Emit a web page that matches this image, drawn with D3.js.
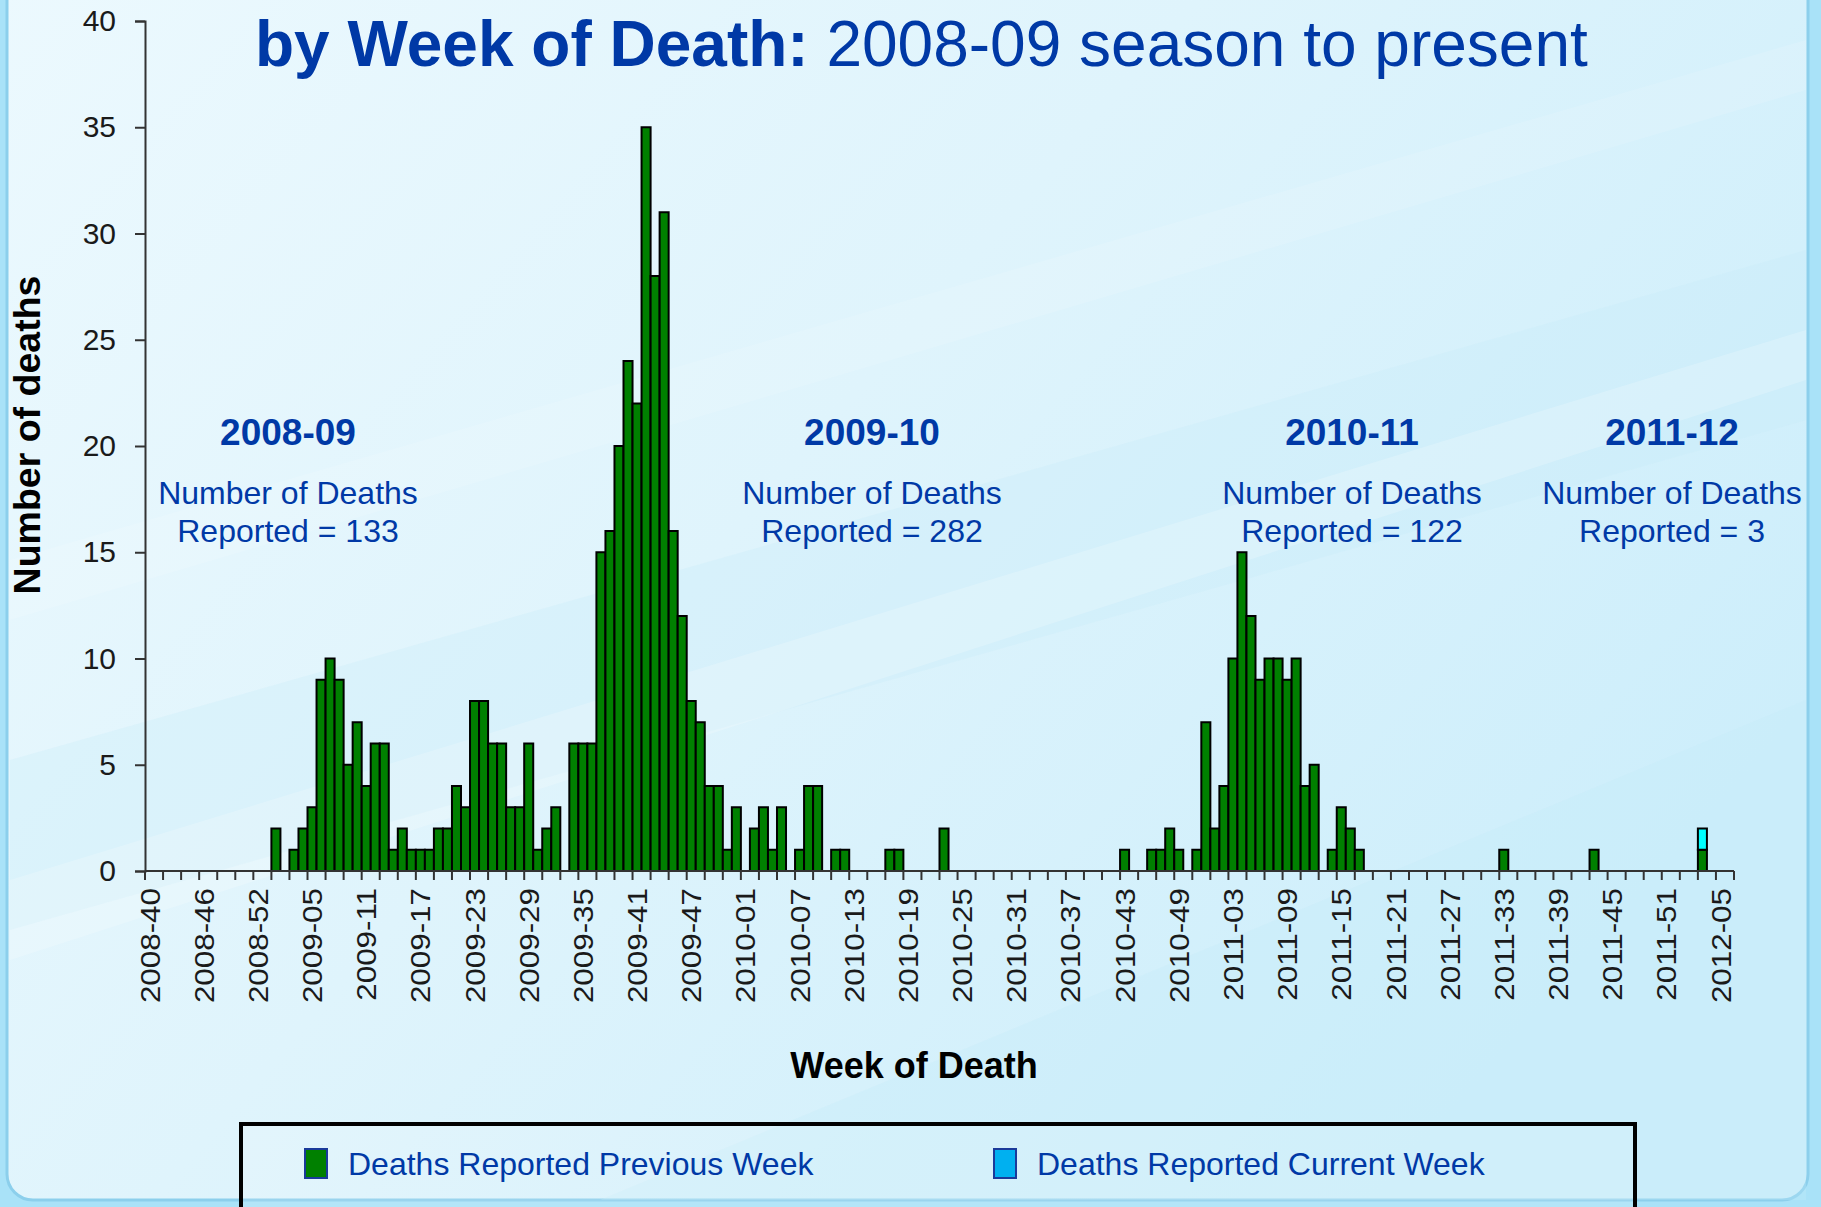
<!DOCTYPE html>
<html><head><meta charset="utf-8">
<script src="https://cdn.jsdelivr.net/npm/d3@7"></script>
<style>html,body{margin:0;padding:0;overflow:hidden;background:#a9e2f8}svg{display:block}</style>
</head><body>
<svg id="chart" width="1821" height="1207"></svg>
<script>
// ---- categories: MMWR weeks (year, first week, last week) ----
const weekRanges = [[2008, 40, 53], [2009, 1, 52], [2010, 1, 52], [2011, 1, 52], [2012, 1, 6]];
const weeks = [];
weekRanges.forEach(([yr, a, b]) => { for (let w = a; w <= b; w++) weeks.push(yr + "-" + String(w).padStart(2, "0")); });

// ---- deaths reported previous week, by season ----
const prev0809 = [0,0,0,0,0,0,0,0,0,0,0,0,0,0, 2,0,1,2,3,9,10,9,5,7,4,6,6,1,2,1,1,1,2,2,4,3,8,8,6,6,3,3,6,1,2,3,0,6];
const prev0910 = [6,6,15,16,20,24,22,35,28,31,16,12,8,7,4,4,1,3,0,2,3,1,3,0,1,4,4,0,1,1,0,0,0,0,1,1,0,0,0,0,2,
                  0,0,0,0,0,0,0,0,0,0,0,0,0,0,0,0];
const prev1011 = [0,0,0,1,0,0,1,1,2,1,0,1,7,2,4,10,15,12,9,10,10,9,10,4,5,0,1,3,2,1,
                  0,0,0,0,0,0,0,0,0,0,0,0,0,0,0,1,0,0,0,0,0,0];
const prev1112 = [0,0,0,1,0,0,0,0,0,0,0,0,0,0,0,1,0,0,0];
// ---- deaths reported current week (2011-12 season) ----
const cur1112  = [0,0,0,0,0,0,0,0,0,0,0,0,0,0,0,1,0,0,0];

// ---- season annotations ----
const seasonNames  = ["2008-09", "2009-10", "2010-11", "2011-12"];
const seasonTotals = [133, 282, 122, 3];
const yTicks = [0, 5, 10, 15, 20, 25, 30, 35, 40];
const seriesNames = ["Deaths Reported Previous Week", "Deaths Reported Current Week"];

const previousWeek = [].concat(prev0809, prev0910, prev1011, prev1112);
const currentWeek = new Array(previousWeek.length - cur1112.length).fill(0).concat(cur1112);
const table = weeks.map((w, i) => ({ week: w, previous: previousWeek[i], current: currentWeek[i] }));

// ---- layout ----
const L = 145, R = 1734, T = 21, B = 871;
const blue = "#0039a6";
const svg = d3.select("#chart");
const defs = svg.append("defs");
const g1 = defs.append("linearGradient").attr("id", "bg").attr("x1", "0").attr("y1", "0").attr("x2", "1").attr("y2", "0.6");
g1.append("stop").attr("offset", "0").attr("stop-color", "#ecf9fe");
g1.append("stop").attr("offset", "0.5").attr("stop-color", "#dff4fc");
g1.append("stop").attr("offset", "1").attr("stop-color", "#cdeefb");

svg.append("rect").attr("width", 1821).attr("height", 1207).attr("fill", "#a9e2f8");
svg.append("rect").attr("x", 7).attr("y", -40).attr("width", 1801).attr("height", 1240).attr("rx", 26)
   .attr("fill", "url(#bg)").attr("stroke", "#8ccfec").attr("stroke-width", 3);
// soft diagonal streaks
const streaks = [
  {d: "M10,760 L1806,250 L1806,420 L10,930 Z", c: "#c6ebfa", o: 0.3},
  {d: "M10,880 L1806,330 L1806,380 L10,960 Z", c: "#ffffff", o: 0.2},
  {d: "M600,1200 L1806,700 L1806,1200 Z", c: "#c2eafa", o: 0.3},
  {d: "M10,560 L1806,40 L1806,90 L10,620 Z", c: "#ffffff", o: 0.12}
];
svg.append("g").selectAll("path").data(streaks).join("path")
   .attr("d", d => d.d).attr("fill", d => d.c).attr("opacity", d => d.o);

// ---- scales ----
const x = d3.scaleBand().domain(weeks).range([L, R]).padding(0);
const y = d3.scaleLinear().domain([0, 40]).range([B, T]);

// ---- bars ----
const stack = d3.stack().keys(["previous", "current"])(table);
const colors = { previous: "#008000", current: "#00ffff" };
svg.append("g").selectAll("g").data(stack).join("g")
  .attr("fill", d => colors[d.key])
  .selectAll("rect").data(d => d.filter(p => p[1] - p[0] > 0)).join("rect")
  .attr("x", d => x(d.data.week))
  .attr("width", x.bandwidth())
  .attr("y", d => y(d[1]))
  .attr("height", d => y(d[0]) - y(d[1]))
  .attr("stroke", "#000").attr("stroke-width", 2);

// ---- y axis ----
const yAxis = svg.append("g").attr("transform", `translate(${L},0)`)
  .call(d3.axisLeft(y).tickValues(yTicks).tickSize(10).tickPadding(19));
yAxis.select(".domain").attr("stroke", "#333").attr("stroke-width", 2);
yAxis.selectAll(".tick line").attr("stroke", "#333").attr("stroke-width", 2);
yAxis.selectAll(".tick text").attr("font-family", "Liberation Sans, Arial, sans-serif")
  .attr("font-size", 30).attr("fill", "#1a1a1a");

// ---- x axis ----
const xg = svg.append("g");
xg.append("line").attr("x1", L).attr("x2", R).attr("y1", B).attr("y2", B).attr("stroke", "#333").attr("stroke-width", 2);
const bounds = d3.range(0, weeks.length + 1, 2);
xg.selectAll("line.tk").data(bounds).join("line").attr("class", "tk")
  .attr("x1", i => i < weeks.length ? x(weeks[i]) : R)
  .attr("x2", i => i < weeks.length ? x(weeks[i]) : R)
  .attr("y1", B).attr("y2", B + 9).attr("stroke", "#333").attr("stroke-width", 2);
const labelWeeks = weeks.filter((w, i) => i % 6 === 0);
xg.selectAll("text").data(labelWeeks).join("text")
  .attr("transform", w => `translate(${x(w) + x.bandwidth() / 2},${B + 17}) rotate(-90) scale(1.12,1)`)
  .attr("text-anchor", "end").attr("dy", "0.36em")
  .attr("font-family", "Liberation Sans, Arial, sans-serif").attr("font-size", 28).attr("fill", "#1a1a1a")
  .text(w => w);

// ---- axis titles ----
svg.append("text").attr("transform", "translate(26,435) rotate(-90)")
  .attr("text-anchor", "middle").attr("dy", "0.36em")
  .attr("font-family", "Liberation Sans, Arial, sans-serif").attr("font-weight", "bold").attr("font-size", 37.5)
  .attr("fill", "#000").text("Number of deaths");
svg.append("text").attr("x", 914).attr("y", 1078).attr("text-anchor", "middle")
  .attr("font-family", "Liberation Sans, Arial, sans-serif").attr("font-weight", "bold").attr("font-size", 36)
  .attr("fill", "#000").text("Week of Death");

// ---- title ----
const title = svg.append("text").attr("x", 255).attr("y", 66)
  .attr("font-family", "Liberation Sans, Arial, sans-serif").attr("font-size", 64).attr("fill", blue);
title.append("tspan").attr("font-weight", "bold").text("by Week of Death:");
title.append("tspan").text(" 2008-09 season to present");

// ---- season annotations ----
const annX = [288, 872, 1352, 1672];
const ann = svg.append("g").attr("font-family", "Liberation Sans, Arial, sans-serif").attr("fill", blue).attr("text-anchor", "middle");
seasonNames.forEach((s, i) => {
  ann.append("text").attr("x", annX[i]).attr("y", 445).attr("font-weight", "bold").attr("font-size", 37).text(s);
  ann.append("text").attr("x", annX[i]).attr("y", 504).attr("font-size", 32).text("Number of Deaths");
  ann.append("text").attr("x", annX[i]).attr("y", 542).attr("font-size", 32).text("Reported = " + seasonTotals[i]);
});

// ---- legend ----
svg.append("rect").attr("x", 241).attr("y", 1124).attr("width", 1394).attr("height", 100)
  .attr("fill", "#ffffff").attr("fill-opacity", 0.12).attr("stroke", "#000").attr("stroke-width", 4);
const legColors = ["#008000", "#00b0f0"];
const legX = [305, 994];
seriesNames.forEach((n, i) => {
  svg.append("rect").attr("x", legX[i]).attr("y", 1149).attr("width", 22).attr("height", 29)
    .attr("fill", legColors[i]).attr("stroke", "#1a3a9a").attr("stroke-width", 2);
  svg.append("text").attr("x", legX[i] + 43).attr("y", 1175)
    .attr("font-family", "Liberation Sans, Arial, sans-serif").attr("font-size", 32).attr("fill", blue).text(n);
});
</script>
</body></html>
